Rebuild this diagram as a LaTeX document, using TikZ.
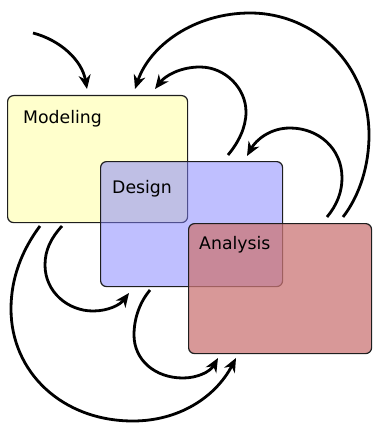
\documentclass[tikz,border=0pt]{standalone}
\usepackage{fontspec}
\setmainfont{DejaVu Sans}
\usetikzlibrary{arrows.meta}
\definecolor{modfill}{RGB}{255,255,204}
\definecolor{desfill}{RGB}{128,128,255}
\definecolor{anafill}{RGB}{203,118,118}
\definecolor{edge}{RGB}{30,30,30}
\begin{document}
\begin{tikzpicture}[x=1pt,y=-1pt,
  box/.style={draw=edge, line width=1.2pt, rounded corners=6pt, anchor=north west, inner sep=0pt},
  lbl/.style={anchor=base west, inner sep=0pt, font=\fontsize{17.3}{20}\selectfont},
  flow/.style={line width=2.8pt, -{Stealth[length=14pt,width=12pt,inset=4.5pt]}}]
\useasboundingbox (0,0) rectangle (372,425);
\node[box, fill=modfill, minimum width=180pt, minimum height=127pt] (modeling) at (7,95) {};
\node[box, fill=desfill, fill opacity=0.5, minimum width=182pt, minimum height=125pt] (design) at (100,161) {};
\node[box, fill=anafill, fill opacity=0.75, minimum width=183pt, minimum height=130pt] (analysis) at (188,223) {};
\node[lbl] (tmod) at (23,123) {Modeling};
\node[lbl] (tdes) at (112,193) {Design};
\node[lbl] (tana) at (199,249) {Analysis};
% endpoints
\coordinate (in) at (33,33);
\coordinate (mtopA) at (87,89);
\coordinate (mtopB) at (135,89);
\coordinate (mtopC) at (155,89);
\coordinate (dtopS) at (228,155);
\coordinate (dtopE) at (247,156);
\coordinate (atopS1) at (327,217);
\coordinate (atopS2) at (343,217);
\coordinate (mbotS1) at (40,226);
\coordinate (mbotS2) at (62,226);
\coordinate (dbotE) at (129,293);
\coordinate (dbotS) at (150,290);
\coordinate (abotE1) at (218,358);
\coordinate (abotE2) at (236,358);
% arrows
\draw[flow] (in) .. controls (60,40) and (82,60) .. (mtopA);
\draw[flow] (dtopS) .. controls (238,143) and (246,128) .. (246,112)
  .. controls (246,88) and (225,67) .. (200,67)
  .. controls (180,67) and (165,76) .. (mtopC);
\draw[flow] (atopS2) .. controls (360,195) and (369,165) .. (369,135)
  .. controls (369,65) and (315,13) .. (250,13)
  .. controls (195,13) and (150,45) .. (mtopB);
\draw[flow] (atopS1) .. controls (337,205) and (342,192) .. (342,178)
  .. controls (342,148) and (318,128) .. (290,128)
  .. controls (270,128) and (256,140) .. (dtopE);
\draw[flow] (mbotS2) .. controls (51,238) and (45,250) .. (45,265)
  .. controls (45,292) and (68,311) .. (93,311)
  .. controls (108,311) and (120,305) .. (dbotE);
\draw[flow] (mbotS1) .. controls (22,250) and (11,278) .. (11,309)
  .. controls (11,372) and (62,421) .. (133,421)
  .. controls (178,421) and (215,398) .. (abotE2);
\draw[flow] (dbotS) .. controls (140,302) and (134,318) .. (134,335)
  .. controls (134,360) and (155,378) .. (183,378)
  .. controls (197,378) and (210,372) .. (abotE1);
\end{tikzpicture}
\end{document}
